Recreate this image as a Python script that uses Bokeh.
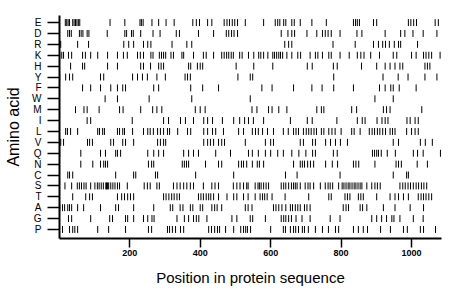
from bokeh.plotting import figure
from bokeh.models import FixedTicker, Range1d, ColumnDataSource
from bokeh.embed import file_html
from bokeh.resources import INLINE

amino_acids = ["P", "G", "A", "T", "S", "C", "N", "Q", "V", "L",
               "I", "M", "W", "F", "Y", "H", "K", "R", "D", "E"]

E = [17, 21, 25, 29, 38, 42, 46, 50, 54, 58, 144, 186, 229, 233, 238, 263, 282, 303, 326, 379, 389, 398, 421, 433,
     468, 476, 483, 491, 498, 506, 528, 580, 613, 620, 626, 637, 643, 660, 667, 684, 717, 758, 835, 841, 846, 852,
     892, 901, 991, 998, 1006, 1014, 1067, 1076]
D = [24, 29, 34, 57, 62, 67, 79, 84, 136, 186, 191, 205, 210, 231, 266, 286, 332, 341, 395, 438, 474, 481, 489, 496,
     506, 630, 649, 660, 668, 703, 731, 747, 755, 763, 772, 797, 845, 859, 925, 969, 981, 1004, 1033, 1072]
R = [1, 4, 52, 83, 183, 197, 211, 239, 251, 260, 320, 362, 376, 640, 651, 660, 777, 840, 892, 906, 918, 926, 937,
     951, 963, 969, 1017]
K = [1, 7, 12, 26, 35, 66, 74, 89, 109, 137, 165, 182, 193, 222, 230, 239, 260, 266, 284, 290, 296, 302, 317, 324,
     348, 353, 381, 409, 417, 438, 461, 468, 475, 481, 488, 494, 512, 519, 537, 552, 566, 572, 580, 592, 606, 611,
     617, 623, 628, 634, 646, 660, 677, 685, 712, 727, 734, 747, 765, 772, 797, 823, 846, 856, 865, 884, 909, 948,
     958, 1000, 1013, 1034, 1041, 1049, 1057, 1081]
H = [32, 66, 72, 137, 165, 231, 239, 259, 282, 289, 296, 367, 373, 392, 400, 407, 502, 552, 606, 704, 718, 778, 789,
     858, 901, 925, 939, 953, 967, 975, 1038, 1045, 1052]
Y = [1, 18, 29, 38, 117, 126, 208, 222, 236, 250, 277, 301, 357, 364, 372, 507, 542, 549, 779, 919, 962, 990, 1038,
     1072]
F = [66, 89, 117, 146, 165, 180, 188, 268, 282, 373, 407, 452, 575, 604, 665, 717, 746, 779, 835, 909, 925, 941, 948,
     965, 1013]
W = [130, 165, 255, 376, 542, 896, 948]
M = [46, 70, 79, 113, 171, 181, 231, 265, 277, 291, 386, 400, 414, 547, 561, 594, 604, 623, 646, 731, 744, 751, 830,
     844, 920, 929, 939, 1029]
I = [79, 89, 207, 296, 310, 344, 358, 381, 410, 421, 435, 463, 495, 512, 526, 537, 551, 580, 656, 704, 718, 788, 846,
     860, 868, 902, 916, 925, 933, 987, 996, 1010, 1019]
L = [18, 23, 32, 52, 109, 114, 123, 128, 165, 171, 180, 185, 208, 239, 251, 258, 267, 279, 287, 296, 307, 313, 336,
     364, 373, 410, 421, 435, 444, 466, 509, 523, 548, 557, 565, 577, 591, 608, 636, 650, 665, 672, 679, 693, 701,
     708, 715, 723, 730, 744, 751, 765, 774, 783, 800, 830, 837, 854, 880, 888, 895, 903, 910, 918, 926, 939, 946,
     953, 986, 1000, 1010, 1019]
V = [4, 12, 80, 86, 94, 146, 154, 180, 188, 211, 279, 287, 296, 302, 410, 421, 429, 438, 452, 461, 469, 528, 585, 600,
     608, 684, 693, 719, 727, 756, 770, 784, 798, 818, 948, 963, 1025, 1039, 1059]
Q = [1, 61, 117, 131, 160, 165, 174, 251, 268, 282, 296, 353, 367, 381, 395, 444, 486, 537, 548, 565, 585, 600, 620,
     636, 660, 680, 700, 719, 727, 778, 789, 889, 895, 901, 906, 914, 931, 954, 1005, 1017, 1033, 1082]
N = [61, 95, 117, 126, 131, 137, 253, 262, 268, 349, 355, 361, 367, 415, 452, 461, 509, 517, 523, 532, 548, 562, 568,
     580, 665, 684, 690, 696, 705, 713, 722, 756, 775, 790, 835, 842, 850, 896, 956, 963, 971, 1016, 1045]
C = [24, 29, 38, 160, 211, 217, 273, 279, 387, 495, 642, 675, 797, 948, 986, 991]
S = [16, 35, 51, 57, 63, 70, 76, 89, 101, 108, 113, 119, 125, 132, 134, 137, 140, 146, 152, 158, 165, 171, 193, 241,
     250, 258, 277, 284, 324, 334, 343, 353, 362, 372, 381, 409, 433, 442, 452, 494, 504, 513, 523, 532, 536, 556,
     564, 568, 573, 580, 587, 594, 630, 637, 643, 651, 659, 665, 670, 675, 684, 698, 706, 712, 722, 741, 755, 763,
     769, 776, 793, 803, 808, 814, 820, 825, 831, 837, 842, 848, 854, 859, 873, 887, 896, 903, 911, 967, 975, 982,
     990, 997, 1005, 1013, 1020, 1028, 1035, 1043]
T = [38, 75, 86, 94, 165, 177, 185, 194, 202, 211, 296, 303, 311, 319, 326, 334, 341, 395, 402, 409, 417, 424, 430,
     438, 452, 476, 495, 504, 523, 536, 556, 570, 577, 583, 590, 604, 641, 708, 765, 772, 811, 818, 825, 849, 856,
     863, 901, 939, 953, 963, 977, 991, 1019, 1027, 1034, 1041, 1049, 1057]
A = [1, 9, 15, 24, 29, 35, 52, 69, 117, 160, 168, 211, 268, 315, 322, 343, 351, 372, 379, 400, 407, 433, 441, 448,
     461, 528, 536, 547, 608, 615, 623, 632, 643, 656, 662, 670, 677, 684, 696, 703, 712, 806, 814, 821, 854, 861,
     873, 920, 953, 996, 1034]
G = [26, 35, 89, 143, 151, 188, 194, 211, 239, 251, 263, 269, 334, 355, 367, 381, 389, 396, 419, 490, 504, 542, 549,
     585, 630, 637, 643, 651, 659, 672, 689, 712, 769, 797, 887, 901, 915, 929, 944, 950, 967, 1005, 1033]
P = [9, 29, 38, 44, 52, 109, 140, 188, 253, 262, 307, 313, 321, 330, 344, 353, 424, 432, 441, 449, 455, 472, 495,
     515, 523, 529, 534, 543, 600, 636, 642, 656, 665, 671, 679, 690, 696, 707, 727, 747, 764, 784, 793, 835, 849,
     863, 875, 912, 940, 977, 988, 1025, 1034, 1068]

positions = {"E": E, "D": D, "R": R, "K": K, "H": H, "Y": Y, "F": F, "W": W, "M": M, "I": I,
             "L": L, "V": V, "Q": Q, "N": N, "C": C, "S": S, "T": T, "A": A, "G": G, "P": P}

x_ticks = [200, 400, 600, 800, 1000]
seq_start, seq_end = 0.5, 1085

xs, y0s, y1s = [], [], []
for idx, aa in enumerate(amino_acids):
    for pos in positions[aa]:
        xs.append(pos)
        y0s.append(idx - 0.32)
        y1s.append(idx + 0.32)

src = ColumnDataSource(dict(x=xs, y0=y0s, y1=y1s))

p = figure(width=452, height=291, output_backend="svg", toolbar_location=None,
           x_range=Range1d(seq_start, seq_end), y_range=Range1d(-0.83, 19.65),
           min_border_left=59, min_border_right=11, min_border_top=15, min_border_bottom=53)
p.segment(x0="x", y0="y0", x1="x", y1="y1", source=src, line_color="black", line_width=1)

p.grid.visible = False
p.outline_line_color = None
p.background_fill_color = "white"

fnt = "Liberation Sans"
p.xaxis.ticker = FixedTicker(ticks=x_ticks)
p.xaxis.axis_label = "Position in protein sequence"
p.xaxis.axis_label_text_font = fnt
p.xaxis.axis_label_text_font_size = "15px"
p.xaxis.axis_label_text_font_style = "normal"
p.xaxis.axis_label_text_color = "black"
p.xaxis.axis_label_standoff = 10
p.xaxis.major_label_text_font = fnt
p.xaxis.major_label_text_font_size = "9px"
p.xaxis.major_label_text_font_style = "bold"
p.xaxis.major_label_text_color = "black"
p.xaxis.major_label_standoff = 2
p.xaxis.major_tick_out = 9
p.xaxis.major_tick_in = 0
p.xaxis.minor_tick_out = 0
p.xaxis.minor_tick_in = 0
p.xaxis.axis_line_width = 2
p.xaxis.axis_line_color = "black"
p.xaxis.major_tick_line_width = 1.5
p.xaxis.major_tick_line_color = "black"

p.yaxis.ticker = FixedTicker(ticks=list(range(len(amino_acids))))
p.yaxis.major_label_overrides = {i: aa for i, aa in enumerate(amino_acids)}
p.yaxis.axis_label = "Amino acid"
p.yaxis.axis_label_text_font = fnt
p.yaxis.axis_label_text_font_size = "16px"
p.yaxis.axis_label_text_font_style = "normal"
p.yaxis.axis_label_text_color = "black"
p.yaxis.axis_label_standoff = 7
p.yaxis.major_label_text_font = fnt
p.yaxis.major_label_text_font_size = "10px"
p.yaxis.major_label_text_color = "black"
p.yaxis.major_label_standoff = 6
p.yaxis.major_tick_out = 12
p.yaxis.major_tick_in = 0
p.yaxis.minor_tick_out = 0
p.yaxis.minor_tick_in = 0
p.yaxis.axis_line_width = 2
p.yaxis.axis_line_color = "black"
p.yaxis.major_tick_line_width = 1.5
p.yaxis.major_tick_line_color = "black"

open("out.html", "w").write(file_html(p, INLINE))
